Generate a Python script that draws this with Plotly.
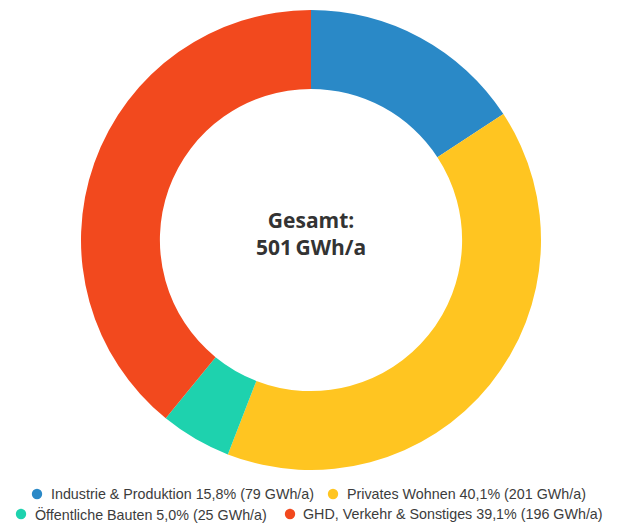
import plotly.graph_objects as go

categories = ["Industrie & Produktion", "Privates Wohnen", "Öffentliche Bauten", "GHD, Verkehr & Sonstiges"]
values_gwh = [79, 201, 25, 196]
colors = ["#2A89C7", "#FFC521", "#1ED2AE", "#F2491E"]
center_title = "Gesamt:"
center_unit = "GWh/a"

total = sum(values_gwh)

def de_pct(v):
    return f"{v / total * 100:.1f}".replace(".", ",") + "%"

legend_labels = [f"{c} {de_pct(v)} ({v} GWh/a)" for c, v in zip(categories, values_gwh)]

# page offset of the plot div (default body margin) and figure size
OFF = 8
W, H = 618 - OFF, 525 - OFF

def px(x):
    return (x - OFF) / W

def py(y):
    return 1 - (y - OFF) / H

# legend layout in page pixels: dot centre x, text start x, row centre y
legend_pos = [(37, 49, 494), (333, 345, 494), (21, 33, 514), (290, 301, 514)]

fig = go.Figure()
fig.add_trace(go.Pie(
    labels=categories,
    values=values_gwh,
    hole=0.657,
    sort=False,
    direction="clockwise",
    rotation=0,
    marker=dict(colors=colors, line=dict(width=0)),
    textinfo="none",
    showlegend=False,
    domain=dict(x=[px(81), px(541)], y=[py(470), py(10)]),
    hovertemplate="%{label}: %{value} GWh/a<extra></extra>",
))

annotations = [
    dict(text=f"<b>{center_title}</b><br><b>{total}\u2009{center_unit}</b>",
         x=px(311), y=py(233.5), xref="paper", yref="paper",
         xanchor="center", yanchor="middle", showarrow=False,
         font=dict(family="Open Sans, sans-serif", size=21, color="#333333")),
]
shapes = []
for lab, col, (dx, tx, ry) in zip(legend_labels, colors, legend_pos):
    shapes.append(dict(type="circle", xref="paper", yref="paper",
                       xsizemode="pixel", ysizemode="pixel",
                       xanchor=px(dx), yanchor=py(ry),
                       x0=-5.2, x1=5.2, y0=-5.2, y1=5.2,
                       fillcolor=col, line=dict(width=0)))
    annotations.append(dict(text=lab, x=px(tx), y=py(ry), xref="paper", yref="paper",
                            xanchor="left", yanchor="middle", showarrow=False,
                            font=dict(family="Liberation Sans, Arial, sans-serif", size=14.3, color="#3c3c3c")))

fig.update_layout(
    width=W, height=H,
    margin=dict(l=0, r=0, t=0, b=0, autoexpand=False),
    paper_bgcolor="white",
    annotations=annotations,
    shapes=shapes,
)

fig.write_html("out.html")
